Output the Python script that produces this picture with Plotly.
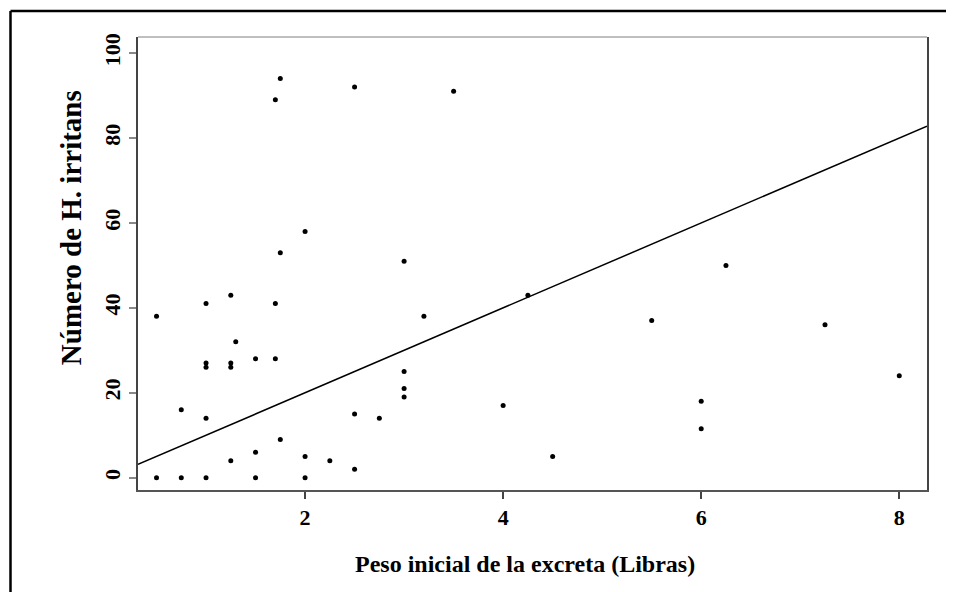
import plotly.graph_objects as go

# Data
peso = [0.5, 0.5, 0.75, 0.75, 1.0, 1.0, 1.0, 1.0, 1.0, 1.25, 1.25, 1.25, 1.25, 1.3,
        1.5, 1.5, 1.5, 1.7, 1.7, 1.7, 1.75, 1.75, 1.75, 2.0, 2.0, 2.0, 2.25, 2.5, 2.5,
        2.5, 2.75, 3.0, 3.0, 3.0, 3.0, 3.2, 3.5, 4.0, 4.25, 4.5, 5.5, 6.0, 6.0, 6.25,
        7.25, 8.0]
numero = [38, 0, 16, 0, 41, 27, 26, 14, 0, 43, 27, 26, 4, 32,
          28, 6, 0, 41, 28, 89, 94, 53, 9, 58, 5, 0, 4, 92, 15,
          2, 14, 51, 25, 21, 19, 38, 91, 17, 43, 5, 37, 18, 11.5, 50,
          36, 24]

# Fitted line
line_intercept = 0.0
line_slope = 10.0

x_ticks = [2, 4, 6, 8]
y_ticks = [0, 20, 40, 60, 80, 100]

x_title = "Peso inicial de la excreta (Libras)"
y_title = "Número de H. irritans"

x_range = [0.313, 8.28]
y_range = [-2.9, 103.8]

line_x = x_range
line_y = [line_intercept + line_slope * v for v in line_x]

FONT = "Liberation Serif"

fig = go.Figure()
fig.add_trace(go.Scatter(x=line_x, y=line_y, mode="lines",
                         line=dict(color="black", width=1.5), hoverinfo="skip"))
fig.add_trace(go.Scatter(x=peso, y=numero, mode="markers",
                         marker=dict(color="black", size=5)))

fig.update_layout(
    width=946, height=584,
    margin=dict(l=130, r=27, t=29, b=102),
    paper_bgcolor="white", plot_bgcolor="white",
    showlegend=False,
    font=dict(family=FONT, color="black"),
    xaxis=dict(
        range=x_range, tickvals=x_ticks, ticktext=[str(v) for v in x_ticks],
        showgrid=False, zeroline=False,
        showline=True, linecolor="#555", linewidth=1.5, mirror=False,
        ticks="outside", ticklen=7, tickcolor="#444", tickwidth=1.5,
        tickfont=dict(family=FONT, size=22, color="black", weight="bold"),
    ),
    yaxis=dict(
        range=y_range, tickvals=y_ticks, ticktext=[str(v) for v in y_ticks],
        showgrid=False, zeroline=False,
        showline=True, linecolor="#444", linewidth=1.5, mirror=True,
        ticks="outside", ticklen=7, tickcolor="#888", tickwidth=1.5,
        tickangle=-90,
        tickfont=dict(family=FONT, size=22, color="black", weight="bold"),
    ),
    annotations=[
        dict(text="<b>" + x_title + "</b>", xref="paper", yref="paper",
             x=0.4905, y=-0.163, xanchor="center", yanchor="middle",
             showarrow=False, font=dict(family=FONT, size=24, color="black")),
        dict(text="<b>" + y_title + "</b>", xref="paper", yref="paper",
             x=-0.0849, y=0.578, xanchor="center", yanchor="middle",
             textangle=-90, showarrow=False,
             font=dict(family=FONT, size=29, color="black")),
    ],
    shapes=[
        # light top border of the plot area
        dict(type="line", xref="paper", yref="paper", x0=0, x1=1, y0=1, y1=1,
             line=dict(color="#aaa", width=1.5)),
        # outer frame (left and top)
        dict(type="line", xref="paper", yref="paper", x0=-0.1616, x1=-0.1616,
             y0=1.0574, y1=-0.25, line=dict(color="black", width=2.5)),
        dict(type="line", xref="paper", yref="paper", x0=-0.1616, x1=1.05,
             y0=1.0574, y1=1.0574, line=dict(color="black", width=2.5)),
    ],
)

fig.write_html("out.html")
